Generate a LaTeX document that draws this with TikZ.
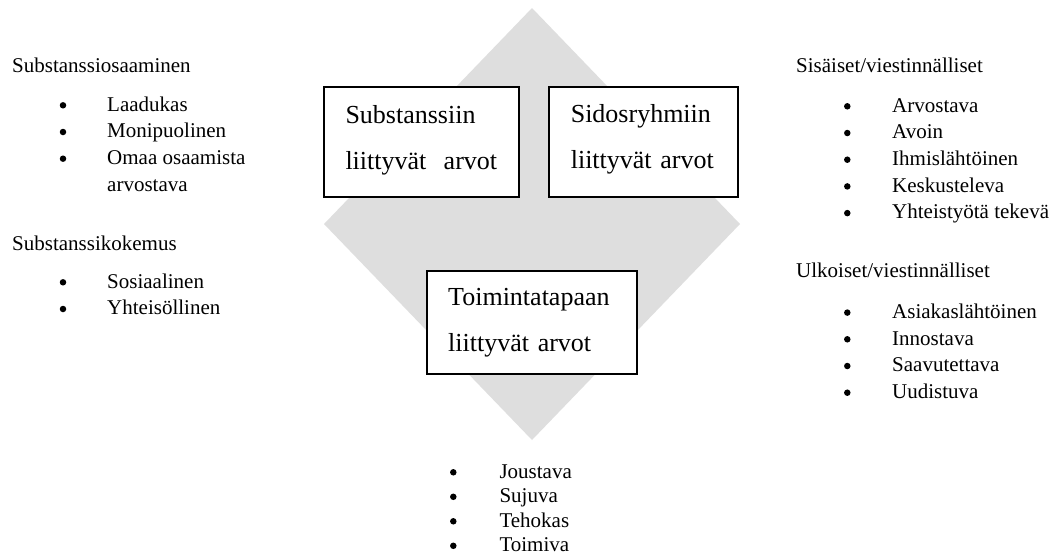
\documentclass[tikz,border=0pt]{standalone}
\usepackage{fontspec}
\setmainfont{Liberation Serif}
\usepackage{tikz}
\definecolor{diamondgray}{RGB}{222,222,222}
\tikzstyle{valbox}=[rectangle, draw=black, fill=white, line width=2pt,% white box over the diamond
align=left, inner xsep=21.5pt, inner ysep=0pt, font=\fontsize{26}{46}\selectfont]
\tikzstyle{topbox}=[valbox, minimum height=110pt, text height=14pt]
\tikzstyle{listtxt}=[anchor=base west, inner sep=0pt, font=\fontsize{21}{24}\selectfont]
\tikzstyle{itemdot}=[circle, fill=black, inner sep=0pt, minimum size=6.5pt]

\begin{document}
\begin{tikzpicture}[x=1pt,y=-1pt]
\useasboundingbox (0,0) rectangle (1053,558);
\fill[diamondgray] (532,8) -- (740,224) -- (532,440) -- (324,224) -- cycle;
\node[topbox, minimum width=195pt, text width=152pt] (subst) at (421.5,142) {Substanssiin\\liittyvät\ \ arvot};
\node[topbox, minimum width=189pt, text width=146pt] (sidos) at (643.8,141.5) {Sidosryhmiin\\liittyvät arvot};
\node[valbox, minimum width=210pt, minimum height=103pt, text width=167pt] (toim) at (531.7,322.5) {Toimintatapaan\\liittyvät arvot};
% substanssi
\node[listtxt] (osaam) at (12,72) {Substanssiosaaminen};
\node[itemdot] (ds1) at (63,105.3) {};
\node[listtxt] (s1) at (107,111) {Laadukas};
\node[itemdot] (ds2) at (63,132) {};
\node[listtxt] (s2) at (107,137.7) {Monipuolinen};
\node[itemdot] (ds3) at (63,158.7) {};
\node[listtxt] (s3) at (107,164.4) {Omaa osaamista};
\node[listtxt] (s3b) at (107,191.1) {arvostava};
\node[listtxt] (kokem) at (12,250) {Substanssikokemus};
\node[itemdot] (ds4) at (63,282.3) {};
\node[listtxt] (s4) at (107,288) {Sosiaalinen};
\node[itemdot] (ds5) at (63,309) {};
\node[listtxt] (s5) at (107,314.7) {Yhteisöllinen};
% sidosryhmat
\node[listtxt] (sis) at (796,72) {Sisäiset/viestinnälliset};
\node[itemdot] (dr1) at (847.3,106.3) {};
\node[listtxt] (r1) at (892,112) {Arvostava};
\node[itemdot] (dr2) at (847.3,133) {};
\node[listtxt] (r2) at (892,138.7) {Avoin};
\node[itemdot] (dr3) at (847.3,159.7) {};
\node[listtxt] (r3) at (892,165.4) {Ihmislähtöinen};
\node[itemdot] (dr4) at (847.3,186.4) {};
\node[listtxt] (r4) at (892,192.1) {Keskusteleva};
\node[itemdot] (dr5) at (847.3,213.1) {};
\node[listtxt] (r5) at (892,218.8) {Yhteistyötä tekevä};
\node[listtxt] (ulk) at (796,277.7) {Ulkoiset/viestinnälliset};
\node[itemdot] (dr6) at (847.3,312.6) {};
\node[listtxt] (r6) at (892,318.3) {Asiakaslähtöinen};
\node[itemdot] (dr7) at (847.3,339.3) {};
\node[listtxt] (r7) at (892,345) {Innostava};
\node[itemdot] (dr8) at (847.3,366) {};
\node[listtxt] (r8) at (892,371.7) {Saavutettava};
\node[itemdot] (dr9) at (847.3,392.7) {};
\node[listtxt] (r9) at (892,398.4) {Uudistuva};
% toimintatapa
\node[itemdot] (dt1) at (453.3,472.3) {};
\node[listtxt] (t1) at (499.3,478) {Joustava};
\node[itemdot] (dt2) at (453.3,496.8) {};
\node[listtxt] (t2) at (499.3,502.5) {Sujuva};
\node[itemdot] (dt3) at (453.3,521.3) {};
\node[listtxt] (t3) at (499.3,527) {Tehokas};
\node[itemdot] (dt4) at (453.3,545.8) {};
\node[listtxt] (t4) at (499.3,551.5) {Toimiva};
\end{tikzpicture}
\end{document}
